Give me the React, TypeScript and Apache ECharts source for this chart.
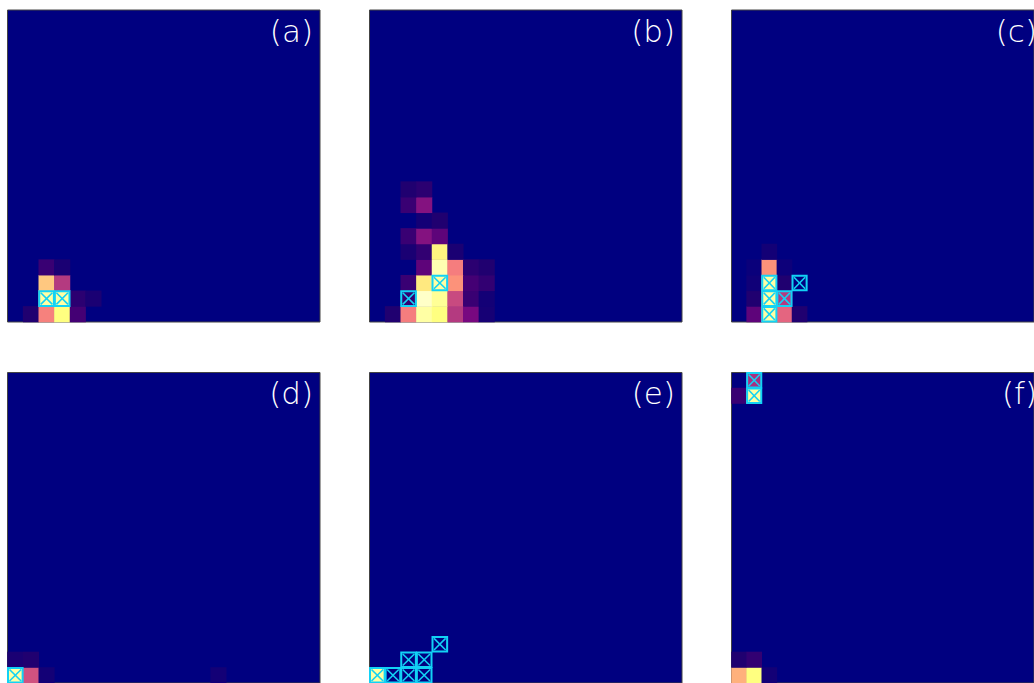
import React, { useEffect, useRef } from "react";
import * as echarts from "echarts";

// 20x20 grid, column index (left → right), row index (bottom → top)
const GRID_N = 20;
const cols = Array.from({ length: GRID_N }, (_, i) => String(i));
const rows = Array.from({ length: GRID_N }, (_, i) => String(i));

const panelLabels = ["(a)", "(b)", "(c)", "(d)", "(e)", "(f)"];

// non-zero cells: [col, row, intensity]
const cellsA = [
  [1, 0, 0.1], [2, 0, 0.64], [3, 0, 0.9], [4, 0, 0.2],
  [2, 1, 0.95], [3, 1, 0.95], [4, 1, 0.13], [5, 1, 0.08],
  [2, 2, 0.8], [3, 2, 0.45],
  [2, 3, 0.17], [3, 3, 0.08],
];
const cellsB = [
  [1, 0, 0.1], [2, 0, 0.63], [3, 0, 0.95], [4, 0, 0.9], [5, 0, 0.45], [6, 0, 0.3], [7, 0, 0.07],
  [2, 1, 0.15], [3, 1, 1.0], [4, 1, 0.93], [5, 1, 0.5], [6, 1, 0.17], [7, 1, 0.06],
  [2, 2, 0.17], [3, 2, 0.86], [4, 2, 0.95], [5, 2, 0.68], [6, 2, 0.2], [7, 2, 0.15],
  [3, 3, 0.25], [4, 3, 0.97], [5, 3, 0.63], [6, 3, 0.13], [7, 3, 0.1],
  [2, 4, 0.08], [3, 4, 0.15], [4, 4, 0.88], [5, 4, 0.08],
  [2, 5, 0.17], [3, 5, 0.33], [4, 5, 0.25],
  [3, 6, 0.06], [4, 6, 0.1],
  [2, 7, 0.17], [3, 7, 0.33],
  [2, 8, 0.1], [3, 8, 0.13],
];
const cellsC = [
  [1, 0, 0.25], [2, 0, 0.95], [3, 0, 0.57], [4, 0, 0.1],
  [1, 1, 0.1], [2, 1, 0.95], [3, 1, 0.45],
  [1, 2, 0.05], [2, 2, 0.95], [3, 2, 0.1],
  [1, 3, 0.03], [2, 3, 0.68], [3, 3, 0.04],
  [2, 4, 0.06],
];
const cellsD = [
  [0, 0, 0.95], [1, 0, 0.52], [2, 0, 0.06], [13, 0, 0.06],
  [0, 1, 0.08], [1, 1, 0.1],
];
const cellsE = [[0, 0, 0.95]];
const cellsF = [
  [0, 0, 0.75], [1, 0, 0.9], [2, 0, 0.06],
  [0, 1, 0.1], [1, 1, 0.15],
  [0, 18, 0.17], [1, 18, 0.95],
  [1, 19, 0.42],
];

// marked cells: [col, row]
const marksA = [[2, 1], [3, 1]];
const marksB = [[2, 1], [4, 2]];
const marksC = [[2, 0], [2, 1], [2, 2], [3, 1], [4, 2]];
const marksD = [[0, 0]];
const marksE = [[0, 0], [1, 0], [2, 0], [3, 0], [2, 1], [3, 1], [4, 2]];
const marksF = [[1, 18], [1, 19]];

const allCells = [cellsA, cellsB, cellsC, cellsD, cellsE, cellsF];
const allMarks = [marksA, marksB, marksC, marksD, marksE, marksF];

const colormap = [
  "#000080", "#200070", "#440074", "#780880", "#a02a80", "#c84a80",
  "#f07080", "#ff9a78", "#ffc880", "#ffff80", "#ffffc8",
];

const PANEL_LEFTS = [7.5, 369.5, 731.5];
const PANEL_TOPS = [10, 372.5];
const PANEL_W = 312.5;
const PANEL_H = 312;
const MARK_COLOR = "#12d2f5";

export default function App() {
  const ref = useRef<HTMLDivElement>(null);

  useEffect(() => {
    if (!ref.current) return;
    const chart = echarts.init(ref.current, undefined, { renderer: "svg" });

    const grids: any[] = [];
    const xAxes: any[] = [];
    const yAxes: any[] = [];
    const series: any[] = [];
    const graphics: any[] = [];

    for (let p = 0; p < 6; p++) {
      const left = PANEL_LEFTS[p % 3];
      const top = PANEL_TOPS[Math.floor(p / 3)];
      grids.push({
        left, top, width: PANEL_W, height: PANEL_H,
        show: true, backgroundColor: "#000080",
        borderColor: "#444", borderWidth: 1,
      });
      xAxes.push({ type: "category", data: cols, gridIndex: p, show: false });
      yAxes.push({ type: "category", data: rows, gridIndex: p, show: false });
      series.push({
        type: "heatmap",
        xAxisIndex: p, yAxisIndex: p,
        data: allCells[p],
        itemStyle: { borderWidth: 0 },
        emphasis: { disabled: true },
      });
      graphics.push({
        type: "text",
        right: 1034 - (left + PANEL_W) + 7,
        top: top + 5,
        style: {
          text: panelLabels[p],
          fill: "#ffffff",
          fontSize: 31,
          fontFamily: "DejaVu Sans, Liberation Sans, sans-serif",
          fontWeight: 200,
        },
        z: 100,
      });
    }
    for (let p = 0; p < 6; p++) {
      series.push({
        type: "custom",
        xAxisIndex: p, yAxisIndex: p,
        data: allMarks[p],
        z: 10,
        renderItem: (params: any, api: any) => {
          const c = api.coord([api.value(0), api.value(1)]);
          const s = api.size([1, 1]);
          const w = s[0], h = s[1];
          const x0 = c[0] - w / 2 + 0.5, y0 = c[1] - h / 2 + 0.5;
          const x1 = c[0] + w / 2 - 0.5, y1 = c[1] + h / 2 - 0.5;
          const ix0 = x0 + 1.5, iy0 = y0 + 1.5, ix1 = x1 - 1.5, iy1 = y1 - 1.5;
          return {
            type: "group",
            children: [
              { type: "rect", shape: { x: x0, y: y0, width: x1 - x0, height: y1 - y0 }, style: { fill: "none", stroke: MARK_COLOR, lineWidth: 2 } },
              { type: "line", shape: { x1: ix0, y1: iy0, x2: ix1, y2: iy1 }, style: { stroke: MARK_COLOR, lineWidth: 1.6 } },
              { type: "line", shape: { x1: ix1, y1: iy0, x2: ix0, y2: iy1 }, style: { stroke: MARK_COLOR, lineWidth: 1.6 } },
            ],
          };
        },
      });
    }

    chart.setOption({
      animation: false,
      grid: grids,
      xAxis: xAxes,
      yAxis: yAxes,
      visualMap: {
        show: false,
        type: "continuous",
        min: 0,
        max: 1,
        seriesIndex: [0, 1, 2, 3, 4, 5],
        dimension: 2,
        inRange: { color: colormap },
      },
      series,
      graphic: graphics,
    });

    return () => chart.dispose();
  }, []);

  return <div ref={ref} style={{ width: 1034, height: 683, position: "absolute", left: 0, top: 0 }} />;
}
